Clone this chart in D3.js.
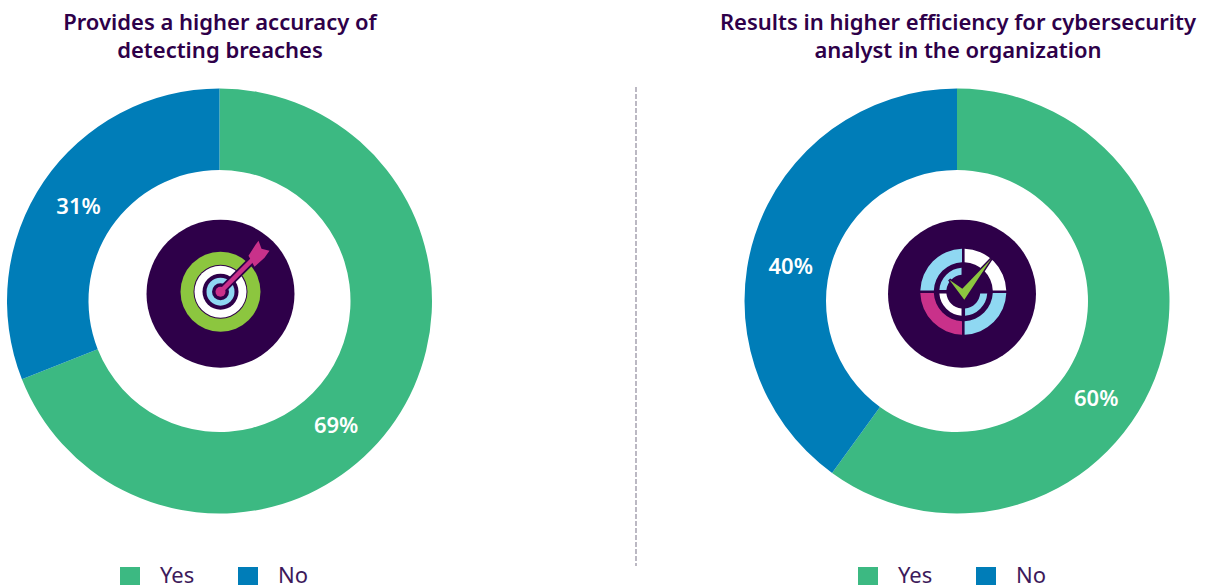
<!DOCTYPE html>
<html>
<head>
<meta charset="utf-8">
<script src="https://cdn.jsdelivr.net/npm/d3@7"></script>
<style>
  html, body { margin: 0; padding: 0; background: #fff; overflow: hidden; }
  text { font-family: "Noto Sans", "Open Sans", sans-serif; }
</style>
</head>
<body>
<div id="chart"></div>
<script>
var categories = ["Yes", "No"]
var accuracyValues = [69, 31]
var efficiencyValues = [60, 40]
var accuracyTitle = ["Provides a higher accuracy of", "detecting breaches"]
var efficiencyTitle = ["Results in higher efficiency for cybersecurity", "analyst in the organization"]

var colors = d3.scaleOrdinal().domain(categories).range(["#3cb982", "#007db8"])
var purple = "#2e0049", sky = "#8fd8f2", lime = "#8cc63f", magenta = "#c9318a"

var width = 1211, height = 585

var svg = d3.select("#chart").append("svg")
    .attr("width", width)
    .attr("height", height)
    .style("display", "block")

var pie = d3.pie().sort(null).value(function(d) { return d.value })
var arc = d3.arc().innerRadius(131).outerRadius(212.5)

// labels in the picture are not on the slice centroid, so angles are given per chart
function donut(cx, values, title, titleX, labelAngles, legendX) {
    var data = categories.map(function(c, i) { return {name: c, value: values[i]} })
    var g = svg.append("g").attr("transform", "translate(" + cx + ",301)")

    g.selectAll("path")
        .data(pie(data))
        .enter()
        .append("path")
        .attr("d", arc)
        .attr("fill", function(d) { return colors(d.data.name) })

    g.selectAll(".pct")
        .data(pie(data))
        .enter()
        .append("text")
        .attr("class", "pct")
        .attr("x", function(d, i) { return 170 * Math.sin(labelAngles[i] * Math.PI / 180) })
        .attr("y", function(d, i) { return -170 * Math.cos(labelAngles[i] * Math.PI / 180) })
        .attr("dy", "0.36em")
        .attr("text-anchor", "middle")
        .attr("font-size", 22)
        .attr("font-weight", 600)
        .attr("fill", "#fff")
        .text(function(d) { return d.data.value + "%" })

    svg.selectAll(null)
        .data(title)
        .enter()
        .append("text")
        .attr("x", titleX)
        .attr("y", function(d, i) { return 30 + i * 28 })
        .attr("text-anchor", "middle")
        .attr("font-size", 22)
        .attr("font-weight", 600)
        .attr("fill", purple)
        .text(function(d) { return d })

    var legend = svg.selectAll(null)
        .data(categories)
        .enter()
        .append("g")
        .attr("transform", function(d, i) { return "translate(" + (legendX + i * 118) + ",567)" })
    legend.append("rect")
        .attr("width", 20)
        .attr("height", 18)
        .attr("fill", function(d) { return colors(d) })
    legend.append("text")
        .attr("x", 40)
        .attr("y", 16)
        .attr("font-size", 22)
        .attr("fill", "#3d1a5b")
        .text(function(d) { return d })
}

donut(219.5, accuracyValues, accuracyTitle, 220, [136.7, 304], 120)
donut(957, efficiencyValues, efficiencyTitle, 958, [125, 282], 858)

// divider
svg.append("line")
    .attr("x1", 636).attr("x2", 636)
    .attr("y1", 87).attr("y2", 566)
    .attr("stroke", "#8f8a9c")
    .attr("stroke-width", 1.2)
    .attr("stroke-dasharray", "5,2")

// target icon
var t = svg.append("g").attr("transform", "translate(220.5,293.7)")
t.append("circle").attr("r", 74).attr("fill", purple)
var rings = [[40, lime], [27, purple], [26, "#fff"], [18, purple], [14, sky], [8.5, purple]]
t.selectAll(".ring")
    .data(rings)
    .enter()
    .append("circle")
    .attr("cy", -2)
    .attr("r", function(d) { return d[0] })
    .attr("fill", function(d) { return d[1] })
t.append("line")
    .attr("x1", 0).attr("y1", -2).attr("x2", 32).attr("y2", -34)
    .attr("stroke", purple).attr("stroke-width", 8)
t.append("line")
    .attr("x1", 0).attr("y1", -2).attr("x2", 32).attr("y2", -34)
    .attr("stroke", magenta).attr("stroke-width", 4.5)
t.append("circle").attr("cy", -2).attr("r", 5).attr("fill", magenta)
t.append("path")
    .attr("d", "M28,-38 L35,-49 L38,-53 L41,-45 L49,-43 L44,-36 L34,-27 Z")
    .attr("fill", magenta)

// dial icon with check mark
var c = svg.append("g").attr("transform", "translate(962,293.7)")
c.append("circle").attr("r", 74).attr("fill", purple)
var dial = c.append("g").attr("transform", "translate(1.3,-2)")
var outerArc = d3.arc().innerRadius(29.5).outerRadius(43).padAngle(0.05)
var innerArc = d3.arc().innerRadius(17).outerRadius(24).padAngle(0.12)
var q = Math.PI / 2
var outerParts = [[0, "#fff"], [1, sky], [2, magenta], [3, sky]]
var innerParts = [[0, purple], [1, sky], [2, "#fff"], [3, sky]]
dial.selectAll(".outer")
    .data(outerParts)
    .enter()
    .append("path")
    .attr("d", function(d) { return outerArc({startAngle: d[0] * q, endAngle: (d[0] + 1) * q}) })
    .attr("fill", function(d) { return d[1] })
dial.selectAll(".inner")
    .data(innerParts)
    .enter()
    .append("path")
    .attr("d", function(d) { return innerArc({startAngle: d[0] * q, endAngle: (d[0] + 1) * q}) })
    .attr("fill", function(d) { return d[1] })
dial.append("path")
    .attr("d", "M-14,-12 L-1,-3 L28,-33 L1,8 Z")
    .attr("fill", purple)
    .attr("stroke", purple)
    .attr("stroke-width", 3)
dial.append("path")
    .attr("d", "M-14,-12 L-1,-3 L28,-33 L1,8 Z")
    .attr("fill", lime)
</script>
</body>
</html>
